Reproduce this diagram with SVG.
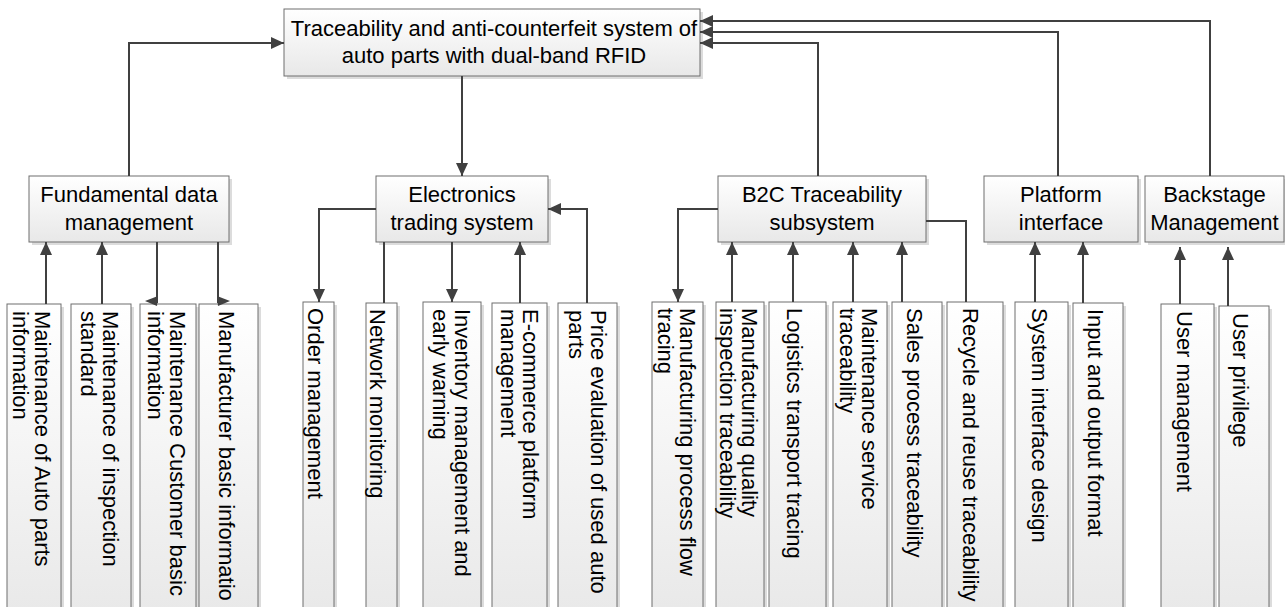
<svg xmlns="http://www.w3.org/2000/svg" width="1285" height="607" viewBox="0 0 1285 607">
<defs>
<linearGradient id="g" x1="0" y1="0" x2="0" y2="1">
<stop offset="0" stop-color="#ffffff"/>
<stop offset="1" stop-color="#e8e8e8"/>
</linearGradient>
<marker id="ah" markerUnits="userSpaceOnUse" markerWidth="14" markerHeight="12" viewBox="0 -6 14 12" refX="13" refY="0" orient="auto">
<path d="M0,-6 L13,0 L0,6 Z" fill="#404040"/>
</marker>
<style>
.box{fill:url(#g);stroke:#6e6e6e;stroke-width:1}
.sh{fill:#dcdcdc}
text{font-family:"Liberation Sans",Arial,sans-serif;font-size:22px;fill:#000}
.c{text-anchor:middle}
.cn path{fill:none;stroke:#404040;stroke-width:2}
.ar{marker-end:url(#ah)}
</style>
</defs>
<rect width="1285" height="607" fill="#fff"/>

<g id="root">
<rect class="sh" x="287" y="12" width="416" height="67"/>
<rect class="box" x="284" y="9" width="416" height="67"/>
<text class="c" x="494" y="36">Traceability and anti-counterfeit system of</text>
<text class="c" x="494" y="63">auto parts with dual-band RFID</text>
</g>

<g id="fundamental">
<rect class="sh" x="32" y="179" width="200" height="66"/>
<rect class="box" x="29" y="176" width="200" height="66"/>
<text class="c" x="129" y="202">Fundamental data</text>
<text class="c" x="129" y="230">management</text>
</g>
<g id="electronics">
<rect class="sh" x="379" y="179" width="172" height="66"/>
<rect class="box" x="376" y="176" width="172" height="66"/>
<text class="c" x="462" y="202">Electronics</text>
<text class="c" x="462" y="230">trading system</text>
</g>
<g id="b2c">
<rect class="sh" x="721" y="179" width="208" height="66"/>
<rect class="box" x="718" y="176" width="208" height="66"/>
<text class="c" x="822" y="202">B2C Traceability</text>
<text class="c" x="822" y="230">subsystem</text>
</g>
<g id="platform">
<rect class="sh" x="987" y="179" width="154" height="66"/>
<rect class="box" x="984" y="176" width="154" height="66"/>
<text class="c" x="1061" y="202">Platform</text>
<text class="c" x="1061" y="230">interface</text>
</g>
<g id="backstage">
<rect class="sh" x="1148" y="179" width="139" height="66"/>
<rect class="box" x="1145" y="176" width="139" height="66"/>
<text class="c" x="1214.5" y="202">Backstage</text>
<text class="c" x="1214.5" y="230">Management</text>
</g>

<g id="leaf-auto-parts">
<rect class="sh" x="10" y="307" width="54" height="320"/>
<rect class="box" x="7" y="304" width="54" height="320"/>
<text transform="translate(35,311) rotate(90)">Maintenance of Auto parts</text>
<text transform="translate(13,311) rotate(90)">information</text>
</g>
<g id="leaf-inspection">
<rect class="sh" x="74" y="307" width="60" height="320"/>
<rect class="box" x="71" y="304" width="60" height="320"/>
<text transform="translate(103,311) rotate(90)">Maintenance of inspection</text>
<text transform="translate(81,311) rotate(90)">standard</text>
</g>
<g id="leaf-customer">
<rect class="sh" x="143" y="307" width="56" height="320"/>
<rect class="box" x="140" y="304" width="56" height="320"/>
<text transform="translate(170,311) rotate(90)">Maintenance Customer basic</text>
<text transform="translate(148,311) rotate(90)">information</text>
</g>
<g id="leaf-manufacturer">
<rect class="sh" x="202" y="307" width="59" height="320"/>
<rect class="box" x="199" y="304" width="59" height="320"/>
<text transform="translate(219,311) rotate(90)">Manufacturer basic informatio</text>
</g>
<g id="leaf-order">
<rect class="sh" x="306" y="305" width="31" height="320"/>
<rect class="box" x="303" y="302" width="31" height="320"/>
<text transform="translate(308,308) rotate(90)">Order management</text>
</g>
<g id="leaf-network">
<rect class="sh" x="369" y="306" width="31" height="320"/>
<rect class="box" x="366" y="303" width="31" height="320"/>
<text transform="translate(370,309) rotate(90)">Network monitoring</text>
</g>
<g id="leaf-inventory">
<rect class="sh" x="426" y="305" width="58" height="320"/>
<rect class="box" x="423" y="302" width="58" height="320"/>
<text transform="translate(455,309) rotate(90)">Inventory management and</text>
<text transform="translate(433,309) rotate(90)">early warning</text>
</g>
<g id="leaf-ecommerce">
<rect class="sh" x="495" y="306" width="55" height="320"/>
<rect class="box" x="492" y="303" width="55" height="320"/>
<text transform="translate(523,309) rotate(90)">E-commerce platform</text>
<text transform="translate(501,309) rotate(90)">management</text>
</g>
<g id="leaf-price">
<rect class="sh" x="561" y="306" width="59" height="320"/>
<rect class="box" x="558" y="303" width="59" height="320"/>
<text transform="translate(591,310) rotate(90)">Price evaluation of used auto</text>
<text transform="translate(569,310) rotate(90)">parts</text>
</g>
<g id="leaf-mfg-process">
<rect class="sh" x="655" y="305" width="51" height="320"/>
<rect class="box" x="652" y="302" width="51" height="320"/>
<text transform="translate(680,308) rotate(90)">Manufacturing process flow</text>
<text transform="translate(658,308) rotate(90)">tracing</text>
</g>
<g id="leaf-mfg-quality">
<rect class="sh" x="719" y="305" width="48" height="320"/>
<rect class="box" x="716" y="302" width="48" height="320"/>
<text transform="translate(742,308) rotate(90)">Manufacturing quality</text>
<text transform="translate(720,308) rotate(90)">inspection traceability</text>
</g>
<g id="leaf-logistics">
<rect class="sh" x="772" y="305" width="57" height="320"/>
<rect class="box" x="769" y="302" width="57" height="320"/>
<text transform="translate(787,308) rotate(90)">Logistics transport tracing</text>
</g>
<g id="leaf-maintenance">
<rect class="sh" x="836" y="305" width="54" height="320"/>
<rect class="box" x="833" y="302" width="54" height="320"/>
<text transform="translate(862,308) rotate(90)">Maintenance service</text>
<text transform="translate(840,308) rotate(90)">traceability</text>
</g>
<g id="leaf-sales">
<rect class="sh" x="895" y="305" width="50" height="320"/>
<rect class="box" x="892" y="302" width="50" height="320"/>
<text transform="translate(907,308) rotate(90)">Sales process traceability</text>
</g>
<g id="leaf-recycle">
<rect class="sh" x="950" y="305" width="56" height="320"/>
<rect class="box" x="947" y="302" width="56" height="320"/>
<text transform="translate(963,308) rotate(90)">Recycle and reuse traceability</text>
</g>
<g id="leaf-sysif">
<rect class="sh" x="1018" y="305" width="53" height="320"/>
<rect class="box" x="1015" y="302" width="53" height="320"/>
<text transform="translate(1032,308) rotate(90)">System interface design</text>
</g>
<g id="leaf-io">
<rect class="sh" x="1076" y="306" width="50" height="320"/>
<rect class="box" x="1073" y="303" width="50" height="320"/>
<text transform="translate(1088,309) rotate(90)">Input and output format</text>
</g>
<g id="leaf-user-mgmt">
<rect class="sh" x="1164" y="307" width="53" height="320"/>
<rect class="box" x="1161" y="304" width="53" height="320"/>
<text transform="translate(1177,311) rotate(90)">User management</text>
</g>
<g id="leaf-user-priv">
<rect class="sh" x="1222" y="309" width="50" height="320"/>
<rect class="box" x="1219" y="306" width="50" height="320"/>
<text transform="translate(1233,313) rotate(90)">User privilege</text>
</g>

<g id="connectors" class="cn">
<path class="ar" d="M129,176 V43 H284"/>
<path class="ar" d="M462,76 V176"/>
<path class="ar" d="M818,176 V43 H700"/>
<path class="ar" d="M1058,176 V32 H700"/>
<path class="ar" d="M1210,176 V21 H700"/>

<path class="ar" d="M46,304 V242"/>
<path class="ar" d="M102,304 V242"/>
<path d="M157,242 V303"/>
<polygon points="145,301 158,296 157,306" fill="#404040"/>
<path d="M218,242 V303"/>
<polygon points="230,301 217,296 218,306" fill="#404040"/>

<path class="ar" d="M376,209 H319 V302"/>
<path d="M384,242 V303"/>
<path class="ar" d="M452,242 V302"/>
<path class="ar" d="M520,303 V242"/>
<path class="ar" d="M587,303 V209 H548"/>

<path class="ar" d="M718,209 H678 V302"/>
<path class="ar" d="M732,302 V242"/>
<path class="ar" d="M793,302 V242"/>
<path class="ar" d="M853,302 V242"/>
<path class="ar" d="M902,302 V242"/>
<path d="M926,221 H966 V302"/>

<path class="ar" d="M1035,302 V242"/>
<path class="ar" d="M1083,303 V242"/>
<path class="ar" d="M1180,304 V247"/>
<path class="ar" d="M1228,306 V247"/>
</g>
</svg>
